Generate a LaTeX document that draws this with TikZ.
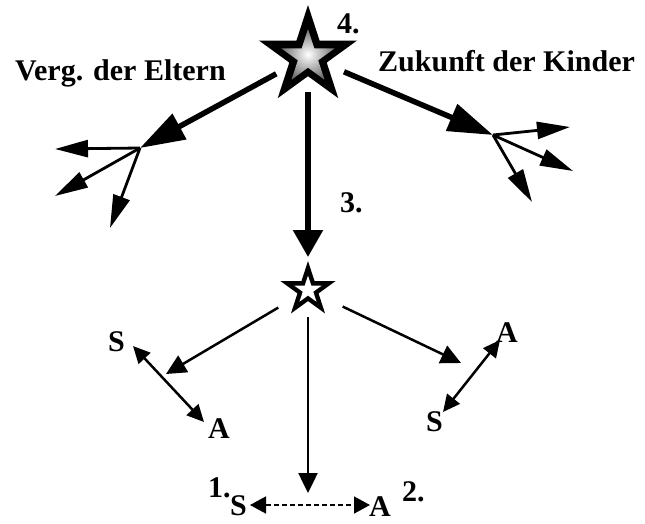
\documentclass[tikz,border=0pt]{standalone}
\usepackage{fontspec}
\setmainfont{Liberation Serif}
\usetikzlibrary{arrows.meta,shapes.geometric}
\tikzset{
    starbase/.style={star, star points=5, star point ratio=2.618,
        inner sep=0pt, outer sep=0pt},
    bigstar/.style={starbase, minimum size=103pt, fill=black},
    bigcore/.style={starbase, minimum size=56pt,
        shading=radial, inner color=white, outer color=black!55},
    smallstar/.style={starbase, minimum size=58pt, fill=black},
    smallcore/.style={starbase, minimum size=29pt, fill=white},
    lbl/.style={font=\bfseries\fontsize{30}{32}\selectfont,
        inner sep=0pt, anchor=base west},
    fat/.style={line width=5.5pt, -{Triangle[length=45pt,width=28pt]}},
    fatdown/.style={line width=5.5pt, -{Triangle[length=27pt,width=29pt]}},
    branch/.style={line width=2.8pt, -{Triangle[length=33pt,width=17pt]}},
    arrow/.style={line width=2.5pt, -{Triangle[length=20pt,width=19pt]}},
    pair/.style={line width=2.5pt,
        {Triangle[length=17pt,width=16pt]}-{Triangle[length=17pt,width=16pt]}},
    dashpair/.style={line width=1.5pt, dash pattern=on 5pt off 3pt,
        {Triangle[length=16pt,width=17pt]}-{Triangle[length=16pt,width=17pt]}}
}
\begin{document}
\begin{tikzpicture}[x=1pt,y=-1pt]
    \useasboundingbox (0,0) rectangle (645,523);
    % stars
    \node[bigstar] (top) at (308,56.5) {};
    \node[bigcore] (topcore) at (308,57) {};
    \node[smallstar] (mid) at (308,290) {};
    \node[smallcore] (midcore) at (308,290) {};
    % branch points and arrow ends
    \coordinate (lb) at (140,148);
    \coordinate (lb-w) at (55,149);
    \coordinate (lb-sw) at (55,196);
    \coordinate (lb-s) at (110,228);
    \coordinate (rb) at (493,135);
    \coordinate (rb-e) at (570,127);
    \coordinate (rb-se) at (573,171);
    \coordinate (rb-s) at (532,202);
    \coordinate (ml) at (166,374);
    \coordinate (mr) at (461,363);
    \coordinate (md) at (308,493);
    \coordinate (sa-l1) at (133,346);
    \coordinate (sa-l2) at (204,422);
    \coordinate (sa-r1) at (500,340);
    \coordinate (sa-r2) at (443,412);
    \coordinate (sa-b1) at (250,505);
    \coordinate (sa-b2) at (370,505);
    % labels
    \node[lbl] (past) at (15,80.7) {Verg. der Eltern};
    \node[lbl] (future) at (378,71.7) {Zukunft der Kinder};
    \node[lbl] (n4) at (337,33) {4.};
    \node[lbl] (n3) at (340,212) {3.};
    \node[lbl] (n1) at (208,497) {1.};
    \node[lbl] (n2) at (402,501) {2.};
    \node[lbl] (s-l) at (108,351) {S};
    \node[lbl] (a-l) at (208,438) {A};
    \node[lbl] (a-r) at (496,342) {A};
    \node[lbl] (s-r) at (426,431) {S};
    \node[lbl] (s-b) at (230,515) {S};
    \node[lbl] (a-b) at (369,516) {A};
    % connectors
    \path (top) edge [fat, shorten <=13pt] (lb)
        (top) edge [fat, shorten <=18pt] (rb)
        (top) edge [fatdown, shorten <=16pt, shorten >=4pt] (mid)
        (lb) edge [branch] (lb-w)
        (lb) edge [branch] (lb-sw)
        (lb) edge [branch] (lb-s)
        (rb) edge [branch] (rb-e)
        (rb) edge [branch] (rb-se)
        (rb) edge [branch] (rb-s)
        (mid) edge [arrow, shorten <=21pt] (ml)
        (mid) edge [arrow, shorten <=26pt] (mr)
        (mid) edge [arrow, shorten <=16pt] (md)
        (sa-l1) edge [pair] (sa-l2)
        (sa-r1) edge [pair] (sa-r2)
        (sa-b1) edge [dashpair] (sa-b2);
\end{tikzpicture}
\end{document}
